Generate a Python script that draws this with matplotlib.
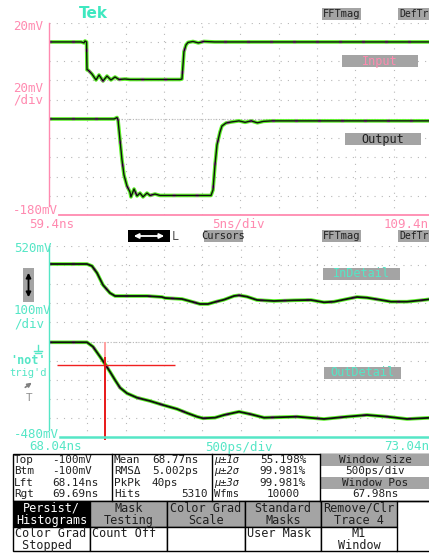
import numpy as np
import matplotlib
matplotlib.use('Agg')
import matplotlib.pyplot as plt
from matplotlib.patches import Rectangle, FancyArrowPatch
from matplotlib.lines import Line2D

# upper screen: input / output edges, 5ns/div, 20mV/div
in_t = [59.4, 63.6, 63.97, 64.10, 64.30, 64.36, 64.49, 65.01, 65.54, 65.93, 66.45, 66.97,
        67.49, 68.02, 68.54, 69.32, 69.97, 76.50, 76.76, 77.02, 77.29, 77.55, 78.2, 78.9,
        79.6, 81.0, 109.4]
in_mv = [0, 0, -1.0, 1.0, 0, -29, -29.1, -33.3, -39.5, -34.3, -40.6, -35.4,
         -39.5, -36.4, -39.0, -38.5, -39.0, -39.0, -38.5, -10, -3, -0.5, 0.5, -1.0,
         0.5, 0, 0]
out_t = [59.4, 67.9, 68.15, 68.28, 68.41, 68.67, 68.93, 69.19, 69.58, 69.97, 70.10, 70.50,
         70.89, 71.28, 71.67, 72.19, 72.58, 73.24, 73.89, 80.55, 80.81, 81.07, 81.33, 81.72,
         81.98, 82.51, 83.16, 84.2, 85.0, 85.8, 86.6, 87.4, 88.5, 109.4]
out_mv = [-80, -80, -79, -78.5, -81, -101.9, -122.6, -138.2, -149.7, -155.9, -161, -152.8,
          -160, -157, -161, -157, -159.5, -158, -159.5, -159.5, -153.8, -127.8, -107, -93.6,
          -87.3, -84.2, -83.2, -82, -83.5, -82, -84, -82.5, -82, -82]

# lower screen: zoomed detail, 500ps/div, 100mV/div
ind_t = [68.04, 68.536, 68.601, 68.667, 68.745, 68.836, 68.902, 69.319, 69.515, 69.554,
         69.776, 69.920, 70.011, 70.116, 70.207, 70.325, 70.455, 70.521, 70.625, 70.755,
         70.977, 71.239, 71.460, 71.630, 71.761, 71.930, 72.061, 72.192, 72.374, 72.505,
         72.714, 72.897, 73.04]
ind_mv = [423.6, 423.6, 413.2, 376.8, 314.3, 272.6, 257.0, 257.0, 251.8, 246.6,
          241.4, 225.7, 215.3, 215.3, 225.7, 237.7, 257.0, 260.6, 253.4, 236.2,
          231.0, 234.6, 236.2, 224.2, 227.3, 241.4, 251.8, 248.1, 236.2, 227.3,
          227.3, 234.6, 241.4]
outd_t = [68.04, 68.536, 68.614, 68.706, 68.771, 68.836, 68.902, 68.967, 69.058, 69.189,
          69.359, 69.528, 69.711, 69.842, 69.972, 70.050, 70.207, 70.325, 70.521, 70.677,
          70.847, 71.278, 71.630, 71.930, 72.192, 72.453, 72.714, 73.04]
outd_mv = [15.9, 15.9, -7.0, -59.1, -97.0, -137.3, -180.5, -220.6, -249.7, -272.7,
           -289.9, -310.7, -331.5, -352.4, -371.6, -380.0, -376.8, -362.8, -345.6, -359.1,
           -376.8, -371.6, -383.6, -371.6, -362.8, -371.6, -383.6, -376.8]

# histogram window / cursor readings
hist_lft, hist_rgt, hist_lvl, hist_mean = 68.14, 69.69, -100, 68.77

stat_names = [["Top", "Btm", "Lft", "Rgt"],
              ["Mean", "RMSΔ", "PkPk", "Hits"],
              ["μ±1σ", "μ±2σ", "μ±3σ", "Wfms"]]
stat_vals = [["-100mV", "-100mV", "68.14ns", "69.69ns"],
             ["68.77ns", "5.002ps", "40ps", "5310"],
             ["55.198%", "99.981%", "99.981%", "10000"]]
window_txt = ["Window Size", "500ps/div", "Window Pos", "67.98ns"]
menu_top = [("Persist/", "Histograms"), ("Mask", "Testing"), ("Color Grad", "Scale"),
            ("Standard", "Masks"), ("Remove/Clr", "Trace 4")]
menu_bot = [("Color Grad", " Stopped"), ("Count Off", ""), ("", ""),
            ("User Mask", ""), ("M1", "Window")]

W, H = 429, 554
PINK = '#ff8ab0'
CYAN = '#55e6c6'
GRID = '#b8b8b8'
GRAY = '#a4a4a4'
DARK = '#202020'

plt.rcParams['font.family'] = ['DejaVu Sans Mono']
fig = plt.figure(figsize=(W / 100, H / 100), dpi=100)
fig.patch.set_facecolor('white')


def box(x0, y0, x1, y1, fc, ec='none', lw=1.0):
    fig.add_artist(Rectangle((x0 / W, 1 - y1 / H), (x1 - x0) / W, (y1 - y0) / H,
                             transform=fig.transFigure, fc=fc, ec=ec, lw=lw))


def label(x, y, s, color, size=9, ha='left', **kw):
    fig.text(x / W, 1 - y / H, s, color=color, fontsize=size, ha=ha, va='center', **kw)


def seg(x0, y0, x1, y1, color, lw=1.0):
    fig.add_artist(Line2D([x0 / W, x1 / W], [1 - y0 / H, 1 - y1 / H],
                          transform=fig.transFigure, color=color, lw=lw))


def arrow(x0, y0, x1, y1, color, style='<|-|>', ms=7, lw=1.2):
    fig.add_artist(FancyArrowPatch((x0 / W, 1 - y0 / H), (x1 / W, 1 - y1 / H),
                                   transform=fig.transFigure, arrowstyle=style,
                                   mutation_scale=ms, color=color, lw=lw))


def scope_axes(top, bottom, t0, t1, v0, v1):
    ax = fig.add_axes([49 / W, 1 - bottom / H, 383 / W, (bottom - top) / H])
    ax.set_xlim(t0, t1)
    ax.set_ylim(v0, v1)
    ax.axis('off')
    for t in np.linspace(t0, t1, 11)[1:-1]:
        ax.axvline(t, color=GRID, lw=0.8, ls=(0, (1, 5.5)), zorder=1)
    for v in np.linspace(v0, v1, 11)[1:]:
        ax.axhline(v, color=GRID, lw=0.8, ls=(0, (1, 5.5)), zorder=1)
    ax.axhline((v0 + v1) / 2, color=GRID, lw=0.8, ls=(0, (1, 1.5)), zorder=1)
    return ax


def trace(ax, t, v, core=1.0):
    ax.plot(t, v, color='#5cf028', lw=2.6, zorder=3)
    ax.plot(t, v, color='#c83cd0', lw=1.8, dashes=(1.2, 8), zorder=4)
    ax.plot(t, v, color='#101010', lw=core, zorder=5)


# ---- upper display
ax1 = scope_axes(22.7, 215.2, 59.4, 109.4, -180, 20)
trace(ax1, in_t, in_mv)
trace(ax1, out_t, out_mv)
seg(49, 22.7, 49, 206, PINK, 1.0)
seg(59, 215, 432, 215, PINK, 1.3)

label(93, 14, "Tek", '#3ee8c0', size=11, ha='center', family='DejaVu Sans', weight='bold')
label(13, 27, "20mV", PINK)
label(13, 88, "20mV", PINK)
label(13, 100, "/div", PINK)
label(13, 211, "-180mV", PINK)
label(29, 224, "59.4ns", PINK)
label(212, 224, "5ns/div", PINK)
label(429, 224, "109.4n", PINK, ha='right')

for y0, y1 in [(8, 20), (230, 242)]:
    box(322, y0, 361, y1, GRAY)
    label(341.5, (y0 + y1) / 2, "FFTmag", DARK, size=7.5, ha='center')
    box(398, y0, 432, y1, GRAY)
    label(399.5, (y0 + y1) / 2, "DefTr", DARK, size=7)
box(342, 55, 418, 67, GRAY)
label(380, 61, "Input", PINK, size=8.5, ha='center')
box(345, 133, 421, 145, GRAY)
label(383, 139, "Output", DARK, size=8.5, ha='center')

# ---- separator controls
box(128, 230, 170, 242, 'black')
arrow(131, 236, 167, 236, 'white', ms=7, lw=1.3)
label(172, 236, "L", '#505050', size=8.5)
box(204, 230, 243, 242, GRAY)
label(223.5, 236, "Cursors", DARK, size=7.5, ha='center')

# ---- lower display
ax2 = scope_axes(245.5, 437.5, 68.04, 73.04, -480, 520)
trace(ax2, ind_t, ind_mv, core=1.3)
trace(ax2, outd_t, outd_mv, core=1.3)
ax2.hlines(hist_lvl, hist_lft, hist_rgt, color='#f02020', lw=1.0, zorder=6)
ax2.vlines(hist_mean, -60, 16, color='#ffa0a0', lw=1.4, zorder=6)
ax2.vlines(hist_mean, -495, -60, color='#e81818', lw=1.4, zorder=6, clip_on=False)
seg(49, 245.5, 49, 430, CYAN, 1.0)
seg(60, 437, 432, 437, CYAN, 1.8)

label(14, 249, "520mV", CYAN)
label(14, 311, "100mV", CYAN)
label(14, 324, "/div", CYAN)
label(14, 434, "-480mV", CYAN)
label(29, 447, "68.04ns", CYAN)
label(205, 447, "500ps/div", CYAN)
label(429, 447, "73.04n", CYAN, ha='right')
box(323, 268, 400, 280, GRAY)
label(361.5, 274, "InDetail", CYAN, size=8.5, ha='center')
box(324, 367, 401, 379, GRAY)
label(362.5, 373, "OutDetail", CYAN, size=8.5, ha='center')

box(23, 268, 34, 302, GRAY)
arrow(28.5, 270, 28.5, 300, 'black', ms=7, lw=1.3)
seg(38, 345, 38, 351, CYAN)
seg(34, 351, 42, 351, CYAN)
seg(35, 353, 41, 353, CYAN)
label(28.5, 360, "'not'", CYAN, size=8.5, ha='center', weight='bold')
label(28.5, 373, "trig'd", CYAN, size=7.5, ha='center')
arrow(23, 389, 34, 381, '#808080', style='-|>', ms=6, lw=1.2)
label(29, 398, "T", '#909090', size=8, ha='center')

# ---- measurement table
box(13, 454, 430, 501, 'white', ec='black')
for xv in (112, 212, 320):
    seg(xv, 454, xv, 501, 'black')
box(320, 454, 430, 465.5, GRAY)
box(320, 477, 430, 489, GRAY)
rows_y = [460, 471, 482.5, 494]
fs = 7.9
for i, y in enumerate(rows_y):
    label(14, y, stat_names[0][i], DARK, size=fs)
    label(52, y, stat_vals[0][i], DARK, size=fs)
    label(114, y, stat_names[1][i], DARK, size=fs)
    if i == 3:
        label(208, y, stat_vals[1][i], DARK, size=fs, ha='right')
    else:
        label(152, y, stat_vals[1][i], DARK, size=fs)
    label(214, y, stat_names[2][i], DARK, size=7.5, style='italic' if i < 3 else 'normal')
    label(283, y, stat_vals[2][i], DARK, size=fs, ha='center')
    label(375, y, window_txt[i], DARK, size=fs, ha='center')

cols = [13, 90, 167, 245, 321, 397]
for i, (a, b) in enumerate(menu_top):
    x0, x1 = cols[i], cols[i + 1]
    fc = 'black' if i == 0 else GRAY
    tc = 'white' if i == 0 else DARK
    box(x0, 501, x1, 527, fc, ec='black')
    label((x0 + x1) / 2, 508, a, tc, size=8.5, ha='center')
    label((x0 + x1) / 2, 520.5, b, tc, size=8.5, ha='center')
for i, (a, b) in enumerate(menu_bot):
    x0, x1 = cols[i], cols[i + 1]
    box(x0, 527, x1, 551, 'white', ec='black')
    if i == 4:
        label((x0 + x1) / 2, 533.5, a, DARK, size=8.5, ha='center')
        label((x0 + x1) / 2, 545.5, b, DARK, size=8.5, ha='center')
    else:
        label(x0 + 2, 533.5, a, DARK, size=8.5)
        label(x0 + 2, 545.5, b, DARK, size=8.5)
seg(397, 501, 430, 501, 'black')
seg(397, 551, 430, 551, 'black')

fig.savefig('out.png', dpi=100, facecolor='white')
